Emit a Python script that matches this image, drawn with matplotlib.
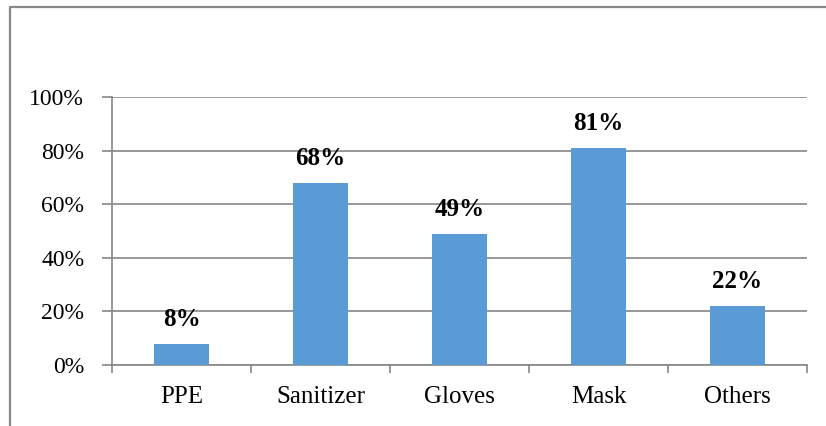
import matplotlib
matplotlib.use("Agg")
import matplotlib.pyplot as plt
from matplotlib.lines import Line2D

categories = ["PPE", "Sanitizer", "Gloves", "Mask", "Others"]
values = [8, 68, 49, 81, 22]
yticks = [0, 20, 40, 60, 80, 100]
ytick_labels = ["0%", "20%", "40%", "60%", "80%", "100%"]

W, H = 826, 426
fig = plt.figure(figsize=(W / 100, H / 100), dpi=100)
plt.rcParams["font.family"] = ["Liberation Serif", "DejaVu Serif"]

# outer chart-area frame (left and top edges)
fx, fy = 9.5 / W, 1 - 7 / H
fig.lines.append(Line2D([fx, fx, 1.0], [0.0, fy, fy], transform=fig.transFigure,
                        color="#888888", linewidth=1.6))

ax = fig.add_axes([112 / W, (H - 365) / H, (807 - 112) / W, (365 - 97) / H])
x = list(range(len(categories)))
ax.bar(x, values, width=0.4, color="#5B9BD5", zorder=3)
ax.set_xlim(-0.5, len(categories) - 0.5)
ax.set_ylim(0, 100)

ax.set_yticks(yticks)
ax.set_yticklabels(ytick_labels, fontsize=17)
ax.yaxis.grid(True, color="#868686", linewidth=1.2, zorder=0)
ax.set_xticks(x)
ax.set_xticklabels(categories, fontsize=18)
ax.set_xticks([i - 0.5 for i in range(len(categories) + 1)], minor=True)
ax.tick_params(axis="x", which="major", length=0, pad=15)
ax.tick_params(axis="x", which="minor", length=6, width=1.2, color="#868686", direction="out")
ax.tick_params(axis="y", length=7, width=1.2, color="#868686", pad=13)

for side in ["top", "right"]:
    ax.spines[side].set_visible(False)
ax.spines["left"].set_color("#868686")
ax.spines["left"].set_linewidth(1.2)
ax.spines["bottom"].set_color("#868686")
ax.spines["bottom"].set_linewidth(1.2)

for xi, v in zip(x, values):
    ax.annotate(f"{v}%", (xi, v), xytext=(0, 13), textcoords="offset points",
                ha="center", va="baseline", fontsize=18, fontweight="bold")

fig.savefig("out.png", dpi=100)
